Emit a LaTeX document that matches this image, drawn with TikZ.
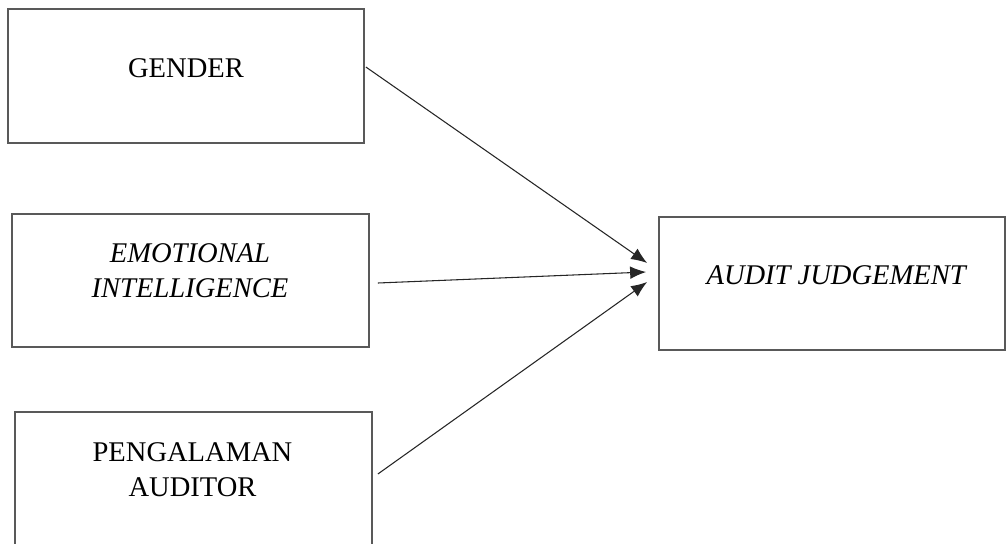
\documentclass[tikz,border=0pt]{standalone}
\usepackage{fontspec}
\setmainfont{Liberation Serif}
\usetikzlibrary{calc}
\usetikzlibrary{arrows.meta}
\tikzset{
  boxNode/.style={%
    rectangle, draw=black!65, line width=1.3pt, inner sep=0pt,
  },
  labelNode/.style={%
    inner sep=0pt, align=center,
    font=\fontsize{21.4}{26.4}\selectfont,
  },
  linkArrow/.style={%
    draw=black!85, line width=0.8pt,
    -{Latex[length=12pt,width=9.5pt]},
  }
}

\begin{document}
\begin{tikzpicture}[x=0.75pt,y=-0.75pt]
                \useasboundingbox (0,0) rectangle (1006,543);
                \clip (0,0) rectangle (1006,543);
                \node[boxNode, minimum width=267pt, minimum height=100.5pt]
                  (gender) at (186,76) {};
                \node[boxNode, minimum width=267.75pt, minimum height=99.75pt]
                  (emo) at (190.5,280.5) {};
                \node[boxNode, minimum width=267.75pt, minimum height=99.75pt]
                  (peng) at (193.5,478.5) {};
                \node[boxNode, minimum width=259.5pt, minimum height=99.75pt]
                  (judge) at (832,283.5) {};
                \node[labelNode] (genderText) at (186,68) {GENDER};
                \node[labelNode] (emoText) at (190,270.5)
                  {\textit{EMOTIONAL}\\\textit{INTELLIGENCE}};
                \node[labelNode] (pengText) at (192.5,470)
                  {PENGALAMAN\\AUDITOR};
                \node[labelNode] (judgeText) at (837,275)
                  {\textit{AUDIT JUDGEMENT}};
                \draw[linkArrow]
                  ($(gender.east)+(1,-9)$) -- ($(judge.west)+(-11,-20.5)$);
                \draw[linkArrow]
                  ($(emo.east)+(8,2.5)$) -- ($(judge.west)+(-12,-11.5)$);
                \draw[linkArrow]
                  ($(peng.east)+(5,-4.5)$) -- ($(judge.west)+(-11,-1.5)$);
              \end{tikzpicture}
\end{document}
